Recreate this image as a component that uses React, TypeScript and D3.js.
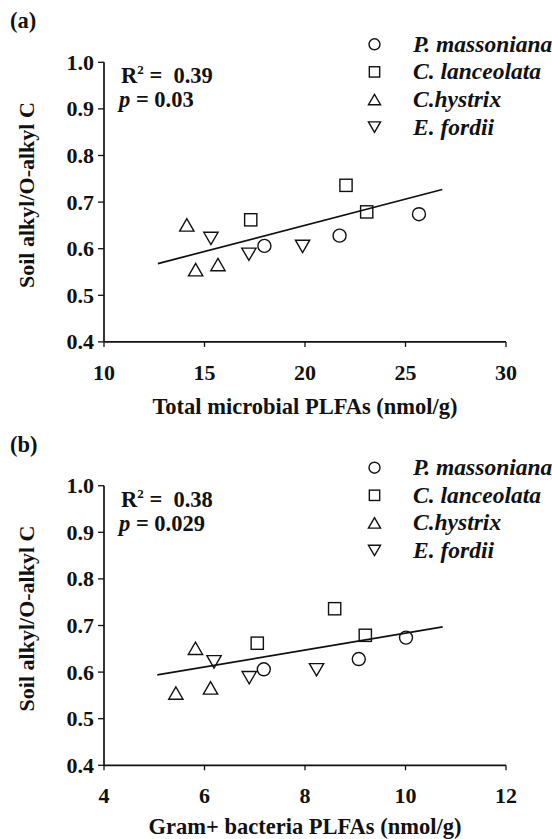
import React from "react";
import * as d3 from "d3";

const species = ["P. massoniana", "C. lanceolata", "C.hystrix", "E. fordii"];
const shapes = ["circle", "square", "triUp", "triDown"];

// Soil alkyl/O-alkyl C (shared y values)
const yMassoniana = [0.606, 0.628, 0.674];
const yLanceolata = [0.662, 0.736, 0.679];
const yHystrix = [0.651, 0.555, 0.566];
const yFordii = [0.622, 0.588, 0.605];

// Panel (a): Total microbial PLFAs
const xaMassoniana = [17.98, 21.72, 25.67];
const xaLanceolata = [17.3, 22.04, 23.07];
const xaHystrix = [14.12, 14.56, 15.67];
const xaFordii = [15.32, 17.21, 19.88];

// Panel (b): Gram+ bacteria PLFAs
const xbMassoniana = [7.18, 9.07, 10.01];
const xbLanceolata = [7.05, 8.59, 9.2];
const xbHystrix = [5.82, 5.43, 6.12];
const xbFordii = [6.19, 6.89, 8.23];

// Fitted lines (endpoints)
const lineAx = [12.68, 26.83];
const lineAy = [0.568, 0.727];
const lineBx = [5.06, 10.74];
const lineBy = [0.594, 0.697];

const yTicks = [0.4, 0.5, 0.6, 0.7, 0.8, 0.9, 1.0];
const xTicksA = [10, 15, 20, 25, 30];
const xTicksB = [4, 6, 8, 10, 12];

const FONT = "'Liberation Serif', 'Times New Roman', serif";

function Marker({ shape, cx, cy, s }: { shape: string; cx: number; cy: number; s: number }) {
  const common = { fill: "none", stroke: "#111", strokeWidth: 1.4 };
  if (shape === "circle") return <circle cx={cx} cy={cy} r={s / 2} {...common} />;
  if (shape === "square")
    return <rect x={cx - s * 0.47} y={cy - s * 0.47} width={s * 0.94} height={s * 0.94} {...common} />;
  const w = s * 1.1;
  const h = s * 0.95;
  if (shape === "triUp")
    return (
      <path d={`M${cx - w / 2},${cy + h / 2}L${cx + w / 2},${cy + h / 2}L${cx},${cy - h / 2}Z`} {...common} />
    );
  return (
    <path d={`M${cx - w / 2},${cy - h / 2}L${cx + w / 2},${cy - h / 2}L${cx},${cy + h / 2}Z`} {...common} />
  );
}

function Panel({
  top,
  label,
  xDomain,
  xTicks,
  xs,
  lx,
  ly,
  r2,
  p,
  xTitle,
  titleDy,
}: {
  top: number;
  label: string;
  xDomain: [number, number];
  xTicks: number[];
  xs: number[][];
  lx: number[];
  ly: number[];
  r2: string;
  p: string;
  xTitle: string;
  titleDy: number;
}) {
  const left = 104;
  const right = 506;
  const plotTop = top;
  const plotBottom = top + 279.6;
  const x = d3.scaleLinear().domain(xDomain).range([left, right]);
  const y = d3.scaleLinear().domain([0.4, 1.0]).range([plotBottom, plotTop]);
  const ys = [yMassoniana, yLanceolata, yHystrix, yFordii];
  const line = d3
    .line<number>()
    .x((_, i) => x(lx[i]))
    .y((_, i) => y(ly[i]));

  return (
    <g fontFamily={FONT} fontWeight="bold" fill="#111">
      <text x={10} y={top - 34} fontSize={22.5}>
        {label}
      </text>
      {/* axes */}
      <line x1={left} x2={left} y1={plotTop} y2={plotBottom} stroke="#111" strokeWidth={1.7} />
      <line x1={left} x2={right} y1={plotBottom} y2={plotBottom} stroke="#111" strokeWidth={1.7} />
      {yTicks.map((t) => (
        <g key={"y" + t}>
          <line x1={left - 6} x2={left} y1={y(t)} y2={y(t)} stroke="#111" strokeWidth={1.3} />
          <text x={left - 10} y={y(t) + 7.5} fontSize={22} textAnchor="end">
            {d3.format(".1f")(t)}
          </text>
        </g>
      ))}
      {xTicks.map((t) => (
        <g key={"x" + t}>
          <line x1={x(t)} x2={x(t)} y1={plotBottom} y2={plotBottom + 5} stroke="#111" strokeWidth={1.3} />
          <text x={x(t)} y={plotBottom + 38} fontSize={22} textAnchor="middle">
            {t}
          </text>
        </g>
      ))}
      <text x={(left + right) / 2} y={plotBottom + titleDy} fontSize={22.5} textAnchor="middle">
        {xTitle}
      </text>
      <text
        transform={`translate(34,${(plotTop + plotBottom) / 2 - 7}) rotate(-90)`}
        fontSize={22}
        textAnchor="middle"
      >
        Soil alkyl/O-alkyl C
      </text>
      {/* stats */}
      <text x={121} y={top + 21} fontSize={22.5}>
        R<tspan dy={-9} fontSize={13}>2</tspan>
        <tspan dy={9}>{"\u00a0=\u00a0\u00a0" + r2}</tspan>
      </text>
      <text x={119} y={top + 45} fontSize={22.5}>
        <tspan fontStyle="italic">p</tspan>
        {" = " + p}
      </text>
      {/* legend */}
      {species.map((s, i) => (
        <g key={s}>
          <Marker shape={shapes[i]} cx={374.5} cy={top - 18 + i * 27.6} s={11} />
          <text x={413} y={top - 18 + i * 27.6 + 7.5} fontSize={23.5} fontStyle="italic">
            {s}
          </text>
        </g>
      ))}
      {/* regression line */}
      <path d={line(lx) || ""} fill="none" stroke="#111" strokeWidth={1.7} />
      {/* points */}
      {xs.map((arr, si) =>
        arr.map((v, j) => (
          <Marker key={si + "-" + j} shape={shapes[si]} cx={x(v)} cy={y(ys[si][j])} s={13} />
        ))
      )}
    </g>
  );
}

export default function App() {
  return (
    <svg
      width={552}
      height={839}
      viewBox="0 0 552 839"
      style={{ position: "absolute", left: 0, top: 0, background: "#fff" }}
    >
      <rect width={552} height={839} fill="#fff" />
      <Panel
        top={62.3}
        label="(a)"
        xDomain={[10, 30]}
        xTicks={xTicksA}
        xs={[xaMassoniana, xaLanceolata, xaHystrix, xaFordii]}
        lx={lineAx}
        ly={lineAy}
        r2="0.39"
        p="0.03"
        xTitle="Total microbial PLFAs (nmol/g)"
        titleDy={72}
      />
      <Panel
        top={485.7}
        label="(b)"
        xDomain={[4, 12]}
        xTicks={xTicksB}
        xs={[xbMassoniana, xbLanceolata, xbHystrix, xbFordii]}
        lx={lineBx}
        ly={lineBy}
        r2="0.38"
        p="0.029"
        xTitle="Gram+ bacteria PLFAs (nmol/g)"
        titleDy={68.5}
      />
    </svg>
  );
}
